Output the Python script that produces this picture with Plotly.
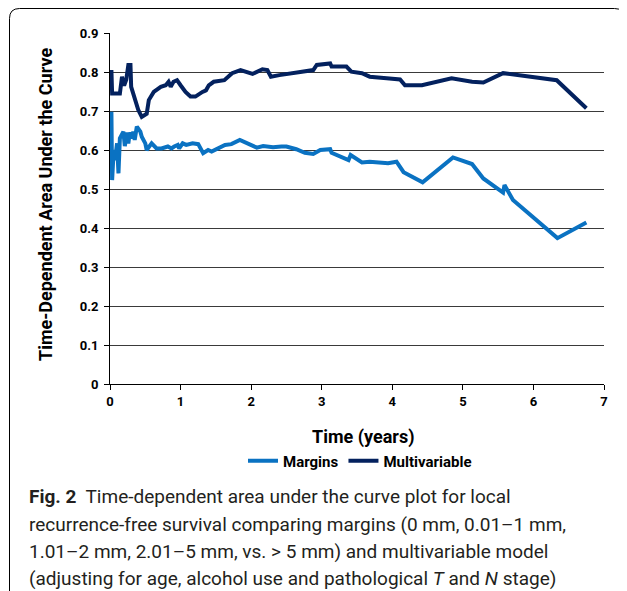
import plotly.graph_objects as go

# Multivariable model time-dependent AUC
multi_t = [0.02, 0.03, 0.14, 0.17, 0.20, 0.23, 0.26, 0.29, 0.30, 0.35, 0.40, 0.45, 0.52, 0.55,
           0.62, 0.72, 0.79, 0.83, 0.86, 0.90, 0.95, 1.00, 1.07, 1.14, 1.21, 1.31, 1.36, 1.40,
           1.47, 1.62, 1.73, 1.85, 2.02, 2.16, 2.23, 2.28, 2.40, 2.88, 2.93, 3.12, 3.14, 3.35,
           3.42, 3.57, 3.68, 3.92, 4.11, 4.18, 4.42, 4.84, 5.13, 5.29, 5.57, 6.33, 6.75]
multi_auc = [0.805, 0.745, 0.745, 0.788, 0.765, 0.780, 0.818, 0.818, 0.762, 0.728, 0.703, 0.685,
             0.693, 0.728, 0.749, 0.762, 0.766, 0.775, 0.762, 0.775, 0.779, 0.766, 0.749, 0.737,
             0.737, 0.749, 0.753, 0.766, 0.775, 0.779, 0.797, 0.805, 0.795, 0.807, 0.805, 0.788,
             0.792, 0.805, 0.818, 0.822, 0.814, 0.814, 0.801, 0.797, 0.788, 0.784, 0.781, 0.766,
             0.766, 0.784, 0.775, 0.773, 0.797, 0.779, 0.707]

# Margins model time-dependent AUC
marg_t = [0.02, 0.03, 0.05, 0.06, 0.07, 0.10, 0.12, 0.14, 0.19, 0.21, 0.24, 0.26, 0.28, 0.31,
          0.33, 0.35, 0.38, 0.43, 0.45, 0.50, 0.52, 0.59, 0.66, 0.73, 0.82, 0.87, 0.91, 0.96,
          0.98, 1.03, 1.08, 1.17, 1.25, 1.32, 1.39, 1.44, 1.63, 1.72, 1.84, 2.08, 2.17, 2.31,
          2.43, 2.50, 2.64, 2.76, 2.88, 2.98, 3.12, 3.14, 3.38, 3.41, 3.57, 3.68, 3.94, 4.06,
          4.16, 4.43, 4.86, 5.13, 5.29, 5.57, 5.59, 5.71, 6.34, 6.75]
marg_auc = [0.698, 0.523, 0.592, 0.600, 0.574, 0.617, 0.540, 0.630, 0.647, 0.610, 0.645, 0.617,
            0.645, 0.630, 0.647, 0.626, 0.660, 0.647, 0.634, 0.617, 0.600, 0.617, 0.604, 0.604,
            0.609, 0.604, 0.609, 0.613, 0.604, 0.617, 0.613, 0.617, 0.615, 0.592, 0.600, 0.596,
            0.613, 0.615, 0.626, 0.606, 0.610, 0.607, 0.609, 0.609, 0.602, 0.593, 0.590, 0.600,
            0.602, 0.593, 0.574, 0.587, 0.568, 0.570, 0.566, 0.570, 0.543, 0.517, 0.581, 0.564,
            0.527, 0.491, 0.510, 0.472, 0.374, 0.414]

x_ticks = [0, 1, 2, 3, 4, 5, 6, 7]
y_ticks = [0, 0.1, 0.2, 0.3, 0.4, 0.5, 0.6, 0.7, 0.8, 0.9]
y_tick_labels = ["0", "0.1", "0.2", "0.3", "0.4", "0.5", "0.6", "0.7", "0.8", "0.9"]

caption_lines = [
    "<b>Fig. 2</b>  Time-dependent area under the curve plot for local",
    "recurrence-free survival comparing margins (0 mm, 0.01–1 mm,",
    "1.01–2 mm, 2.01–5 mm, vs. &gt; 5 mm) and multivariable model",
    "(adjusting for age, alcohol use and pathological <i>T</i> and <i>N</i> stage)",
]

OFF = 8  # default page body margin
W, H = 627 - OFF, 591 - OFF
ML, MT = 110 - OFF, 33 - OFF
MR = W - (604 - OFF)
MB = H - (384 - OFF)
PW, PH = W - ML - MR, H - MT - MB


def px(x):
    return (x - OFF - ML) / PW


def py(y):
    return (H - MB - (y - OFF)) / PH


fig = go.Figure()
fig.add_trace(go.Scatter(x=marg_t, y=marg_auc, mode="lines", name="<b>Margins</b>",
                         line=dict(color="#0A72C2", width=4)))
fig.add_trace(go.Scatter(x=multi_t, y=multi_auc, mode="lines", name="<b>Multivariable</b>",
                         line=dict(color="#03215E", width=4)))

fig.update_xaxes(range=[0, 7], tickvals=x_ticks, ticktext=[f"<b>{t}</b>" for t in x_ticks],
                 showgrid=False, showline=True,
                 linecolor="#000000", linewidth=1, ticks="outside", ticklen=5,
                 tickcolor="#000000", tickfont=dict(family="Roboto", size=13, color="#000"),
                 zeroline=False)
fig.update_yaxes(range=[0, 0.9], tickvals=y_ticks, ticktext=[f"<b>{t}</b>" for t in y_tick_labels],
                 showgrid=True, gridcolor="#3a3a3a", gridwidth=1, showline=True,
                 linecolor="#000000", linewidth=1, ticks="outside", ticklen=5,
                 tickcolor="#000000", tickfont=dict(family="Roboto", size=13, color="#000"),
                 zeroline=False, ticklabelstandoff=3)

annotations = [
    dict(text="<b>Time (years)</b>", xref="paper", yref="paper", x=px(363), y=py(437),
         xanchor="center", yanchor="middle", showarrow=False,
         font=dict(family="Roboto", size=18, color="#000")),
    dict(text="<b>Time-Dependent Area Under the Curve</b>", xref="paper", yref="paper",
         x=px(45), y=py(205), xanchor="center", yanchor="middle", showarrow=False,
         textangle=-90, font=dict(family="Roboto", size=18, color="#000")),
]
for i, line in enumerate(caption_lines):
    annotations.append(dict(text=line, xref="paper", yref="paper", x=px(27), y=py(497 + 27.3 * i),
                            xanchor="left", yanchor="middle", showarrow=False, align="left",
                            font=dict(family="Roboto", size=19, color="#231f20")))

# rounded frame around figure (open at the bottom)
r = 10
x0, x1, y0, yb = 9.5, 624.5, 8.5, 591
path = (f"M {px(x0)},{py(yb)} L {px(x0)},{py(y0 + r)} "
        f"Q {px(x0)},{py(y0)} {px(x0 + r)},{py(y0)} "
        f"L {px(x1 - r)},{py(y0)} Q {px(x1)},{py(y0)} {px(x1)},{py(y0 + r)} "
        f"L {px(x1)},{py(yb)}")

fig.update_layout(
    width=W, height=H,
    margin=dict(l=ML, r=MR, t=MT, b=MB),
    paper_bgcolor="#ffffff", plot_bgcolor="#ffffff",
    showlegend=True,
    legend=dict(orientation="h", x=px(360), y=py(461), xanchor="center", yanchor="middle",
                font=dict(family="Roboto", size=15, color="#000"), bgcolor="rgba(0,0,0,0)",
                itemwidth=30, tracegroupgap=0),
    annotations=annotations,
    shapes=[dict(type="path", path=path, xref="paper", yref="paper",
                 line=dict(color="#000000", width=1))],
)

fig.write_html("out.html")
